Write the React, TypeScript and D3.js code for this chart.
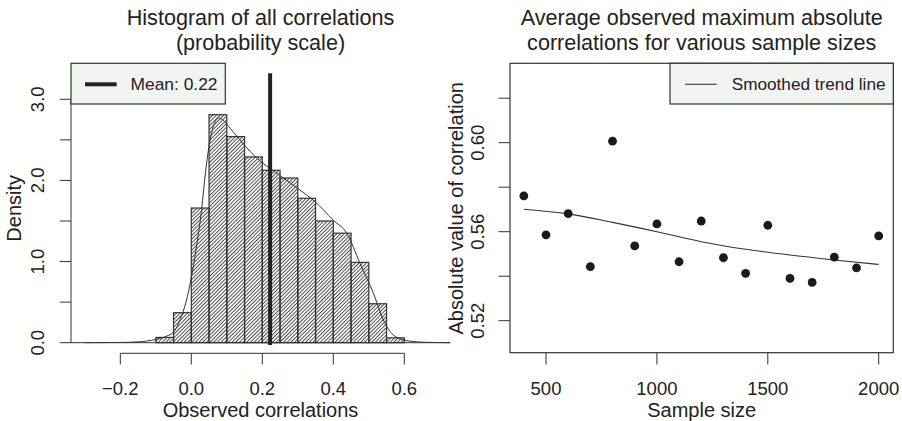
import * as d3 from "d3";

// histogram of correlations (bin width 0.05)
const binStarts = [-0.1, -0.05, 0.0, 0.05, 0.1, 0.15, 0.2, 0.25, 0.3, 0.35, 0.4, 0.45, 0.5, 0.55];
const binDensity = [0.065, 0.37, 1.66, 2.81, 2.54, 2.29, 2.125, 2.03, 1.78, 1.5, 1.35, 0.99, 0.48, 0.06];
const binWidth = 0.05;

// kernel density curve
const densX = [-0.3, -0.2, -0.15, -0.1, -0.07, -0.05, -0.03, -0.015, 0.0, 0.013, 0.029, 0.04, 0.053, 0.065, 0.076, 0.09, 0.11, 0.137, 0.165, 0.194, 0.25, 0.3, 0.348, 0.4, 0.438, 0.475, 0.513, 0.541, 0.569, 0.607, 0.66, 0.73];
const densY = [0, 0.003, 0.01, 0.04, 0.08, 0.13, 0.3, 0.5, 0.8, 1.14, 1.64, 2.1, 2.5, 2.7, 2.77, 2.74, 2.64, 2.5, 2.36, 2.24, 2.06, 1.9, 1.74, 1.51, 1.35, 0.98, 0.61, 0.28, 0.095, 0.025, 0.005, 0];

const meanCorr = 0.222;
const histXTicks = [-0.2, 0, 0.2, 0.4, 0.6];
const histYTicks = [0, 0.5, 1, 1.5, 2, 2.5, 3];
const histYLabels = [0, 1, 2, 3];

// right panel: max absolute correlation by sample size
const sampleSizes = [400, 500, 600, 700, 800, 900, 1000, 1100, 1200, 1300, 1400, 1500, 1600, 1700, 1800, 1900, 2000];
const maxAbsCorr = [0.5761, 0.5586, 0.5681, 0.5443, 0.6007, 0.5536, 0.5635, 0.5465, 0.5648, 0.5483, 0.5413, 0.5629, 0.539, 0.5372, 0.5486, 0.5437, 0.5581];
const trendX = [400, 600, 800, 1000, 1200, 1400, 1600, 1800, 2000];
const trendY = [0.5701, 0.568, 0.5642, 0.56, 0.5555, 0.5521, 0.5495, 0.5473, 0.5453];
const sizeTicks = [500, 1000, 1500, 2000];
const corrTicks = [0.52, 0.54, 0.56, 0.58, 0.6, 0.62];
const corrLabels = [0.52, 0.56, 0.6];

const FONT = "'Liberation Sans', Arial, Helvetica, sans-serif";
const INK = "#222";
const LINE = "#333";
const LEGEND_BG = "#f2f4f2";

export default function App() {
  // left panel scales
  const xL = d3.scaleLinear().domain([0, 0.2]).range([191.3, 262.3]);
  const yL = d3.scaleLinear().domain([0, 3]).range([342.7, 99.3]);
  const densLine = d3
    .line<number>()
    .x((d, i) => xL(densX[i]))
    .y((d) => yL(d))
    .curve(d3.curveMonotoneX);

  // right panel scales
  const xR = d3.scaleLinear().domain([500, 2000]).range([546, 878.7]);
  const yR = d3.scaleLinear().domain([0.52, 0.6]).range([320.7, 142.7]);
  const trendLine = d3
    .line<number>()
    .x((d, i) => xR(trendX[i]))
    .y((d) => yR(d))
    .curve(d3.curveMonotoneX);

  const lBox = { x0: 71, x1: 450, top: 63.3, bottom: 352.7 };
  const rBox = { x0: 510, x1: 893.3, top: 63.3, bottom: 352.7 };

  return (
    <svg
      width={902}
      height={421}
      style={{ position: "absolute", left: 0, top: 0, background: "#fff" }}
      fontFamily={FONT}
    >
      <defs>
        <pattern id="hatch" patternUnits="userSpaceOnUse" width={2.6} height={10} patternTransform="rotate(45)">
          <line x1={0.5} y1={0} x2={0.5} y2={10} stroke="#3a3a3a" strokeWidth={0.9} />
        </pattern>
      </defs>

      {/* ---------- left: histogram ---------- */}
      <text x={260.5} y={25} textAnchor="middle" fontSize={21.6} fill={INK}>Histogram of all correlations</text>
      <text x={260.5} y={50} textAnchor="middle" fontSize={21.6} fill={INK}>(probability scale)</text>

      {binStarts.map((b, i) => (
        <rect
          key={i}
          x={xL(b)}
          y={yL(binDensity[i])}
          width={xL(b + binWidth) - xL(b)}
          height={yL(0) - yL(binDensity[i])}
          fill="url(#hatch)"
          stroke={LINE}
          strokeWidth={1.2}
        />
      ))}
      <line x1={lBox.x0} x2={lBox.x1} y1={yL(0)} y2={yL(0)} stroke={LINE} strokeWidth={1} />
      <path d={densLine(densY) || ""} fill="none" stroke={LINE} strokeWidth={1} />
      <line x1={xL(meanCorr)} x2={xL(meanCorr)} y1={73.3} y2={345} stroke={INK} strokeWidth={4} />

      {/* y axis */}
      <line x1={lBox.x0} x2={lBox.x0} y1={yL(0)} y2={yL(3)} stroke={LINE} />
      {histYTicks.map((t) => (
        <line key={t} x1={lBox.x0 - 11} x2={lBox.x0} y1={yL(t)} y2={yL(t)} stroke={LINE} />
      ))}
      {histYLabels.map((t) => (
        <text key={t} transform={`translate(44,${yL(t)}) rotate(-90)`} textAnchor="middle" fontSize={18.5} fill={INK}>
          {t.toFixed(1)}
        </text>
      ))}
      <text transform={`translate(21,208.3) rotate(-90)`} textAnchor="middle" fontSize={20} fill={INK}>Density</text>

      {/* x axis */}
      <line x1={xL(-0.2)} x2={xL(0.6)} y1={353.3} y2={353.3} stroke={LINE} />
      {histXTicks.map((t) => (
        <g key={t}>
          <line x1={xL(t)} x2={xL(t)} y1={353.3} y2={364.5} stroke={LINE} />
          <text x={xL(t)} y={395} textAnchor="middle" fontSize={18.5} fill={INK}>
            {t < 0 ? "\u2212" + Math.abs(t).toFixed(1) : t.toFixed(1)}
          </text>
        </g>
      ))}
      <text x={260.5} y={417} textAnchor="middle" fontSize={20} fill={INK}>Observed correlations</text>

      {/* legend */}
      <rect x={lBox.x0} y={lBox.top} width={225.3 - lBox.x0} height={104 - lBox.top} fill={LEGEND_BG} stroke={LINE} strokeWidth={1.2} />
      <line x1={85} x2={116.7} y1={84.3} y2={84.3} stroke={INK} strokeWidth={4} />
      <text x={130.5} y={89.5} fontSize={17.4} fill={INK}>Mean: 0.22</text>

      {/* ---------- right: scatter ---------- */}
      <text x={701.7} y={25} textAnchor="middle" fontSize={21.6} fill={INK}>Average observed maximum absolute</text>
      <text x={701.7} y={50} textAnchor="middle" fontSize={21.6} fill={INK}>correlations for various sample sizes</text>

      <rect x={rBox.x0} y={rBox.top} width={rBox.x1 - rBox.x0} height={rBox.bottom - rBox.top} fill="none" stroke={LINE} strokeWidth={1.2} />
      <path d={trendLine(trendY) || ""} fill="none" stroke={LINE} strokeWidth={1.1} />
      {sampleSizes.map((n, i) => (
        <circle key={n} cx={xR(n)} cy={yR(maxAbsCorr[i])} r={4.4} fill="#1a1a1a" />
      ))}

      {corrTicks.map((t) => (
        <line key={t} x1={rBox.x0 - 11.5} x2={rBox.x0} y1={yR(t)} y2={yR(t)} stroke={LINE} />
      ))}
      {corrLabels.map((t) => (
        <text key={t} transform={`translate(484,${yR(t)}) rotate(-90)`} textAnchor="middle" fontSize={18.5} fill={INK}>
          {t.toFixed(2)}
        </text>
      ))}
      <text transform={`translate(463,208.3) rotate(-90)`} textAnchor="middle" fontSize={20} fill={INK}>
        Absolute value of correlation
      </text>

      {sizeTicks.map((t) => (
        <g key={t}>
          <line x1={xR(t)} x2={xR(t)} y1={rBox.bottom} y2={364.5} stroke={LINE} />
          <text x={xR(t)} y={395} textAnchor="middle" fontSize={18.5} fill={INK}>{t}</text>
        </g>
      ))}
      <text x={701.7} y={416.5} textAnchor="middle" fontSize={20} fill={INK}>Sample size</text>

      <rect x={670} y={rBox.top} width={rBox.x1 - 670} height={104 - rBox.top} fill={LEGEND_BG} stroke={LINE} strokeWidth={1.2} />
      <line x1={685} x2={716.7} y1={84.3} y2={84.3} stroke="#444" strokeWidth={1.2} />
      <text x={731.7} y={89.5} fontSize={17.2} fill={INK}>Smoothed trend line</text>
    </svg>
  );
}
